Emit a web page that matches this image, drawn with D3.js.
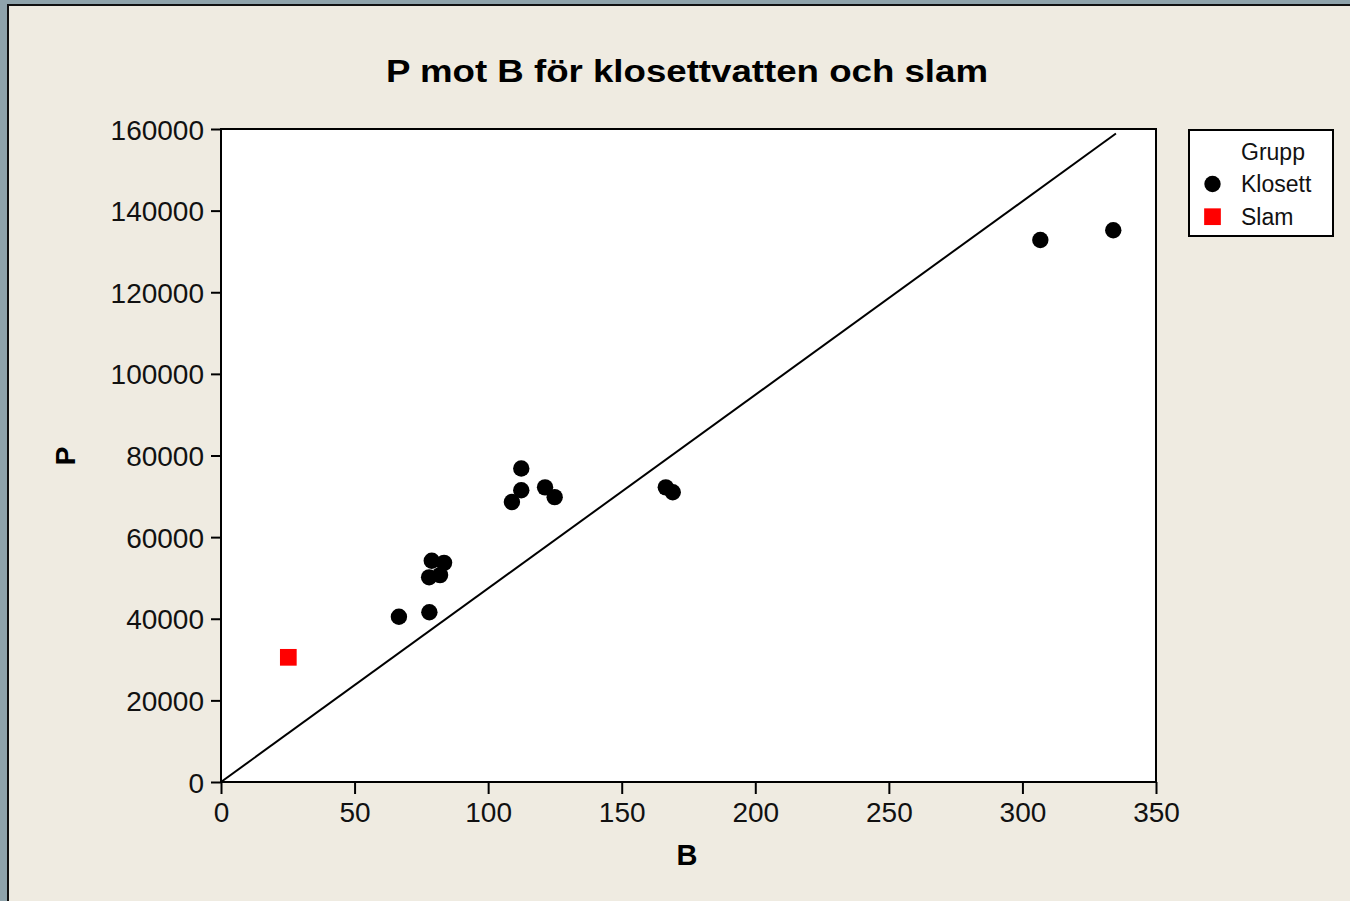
<!DOCTYPE html>
<html lang="en">

<head>
    <meta charset="utf-8">
    <script src="https://d3js.org/d3.v7.min.js"></script>
    <style>
        body { margin: 0; background: #8fa3ab; }
        svg { display: block; }
    </style>
</head>

<body>
    <div id="chart"></div>

    <script>
        // data
        const klosettB = [66.6, 78.0, 77.9, 82.0, 78.9, 83.5, 108.9, 112.4, 112.4, 121.3, 124.9, 166.5, 169.1, 306.7, 334.0];
        const klosettP = [40500, 41600, 50150, 50700, 54200, 53700, 68600, 71500, 76800, 72200, 69800, 72200, 71000, 132800, 135200];
        const slamB = [25.2];
        const slamP = [30550];
        const lineB = [0, 335];
        const lineP = [0, 158900];
        const xTicks = [0, 50, 100, 150, 200, 250, 300, 350];
        const yTicks = [0, 20000, 40000, 60000, 80000, 100000, 120000, 140000, 160000];
        const groups = ["Klosett", "Slam"];

        const width = 1350;
        const height = 901;
        const plot = { left: 221, right: 1156, top: 129, bottom: 782 };
        const font = "'Liberation Sans', Arial, sans-serif";

        const svg = d3.select("#chart").append("svg")
            .attr("width", width)
            .attr("height", height)
            .style("font-family", font);

        // outer frame + beige panel
        svg.append("rect").attr("width", width).attr("height", height).attr("fill", "#8fa3ab");
        svg.append("rect")
            .attr("x", 7).attr("y", 4)
            .attr("width", width - 7).attr("height", height - 4)
            .attr("fill", "#efebe1");
        svg.append("path")
            .attr("d", `M8,${height}V5H${width}`)
            .attr("fill", "none")
            .attr("stroke", "#111")
            .attr("stroke-width", 2);

        const x = d3.scaleLinear().domain([0, 350]).range([plot.left, plot.right]);
        const y = d3.scaleLinear().domain([0, 160000]).range([plot.bottom, plot.top]);

        // plot area
        svg.append("rect")
            .attr("x", plot.left).attr("y", plot.top)
            .attr("width", plot.right - plot.left)
            .attr("height", plot.bottom - plot.top)
            .attr("fill", "white")
            .attr("stroke", "black")
            .attr("stroke-width", 2);

        // axes
        const xAxis = svg.append("g")
            .attr("transform", `translate(0,${plot.bottom})`)
            .call(d3.axisBottom(x).tickValues(xTicks).tickSize(12).tickPadding(8).tickFormat(d3.format("d")));
        const yAxis = svg.append("g")
            .attr("transform", `translate(${plot.left},0)`)
            .call(d3.axisLeft(y).tickValues(yTicks).tickSize(10).tickPadding(7).tickFormat(d3.format("d")));

        [xAxis, yAxis].forEach(a => {
            a.select(".domain").remove();
            a.selectAll("line").attr("stroke", "black").attr("stroke-width", 2);
            a.selectAll("text")
                .attr("fill", "#111")
                .style("font-family", font)
                .style("font-size", "28px");
        });
        xAxis.selectAll("text").attr("dy", "0.71em");
        yAxis.selectAll("text").attr("dy", "0.36em");

        // reference line
        const line = d3.line().x(d => x(d[0])).y(d => y(d[1]));
        svg.append("path")
            .datum(d3.zip(lineB, lineP))
            .attr("d", line)
            .attr("fill", "none")
            .attr("stroke", "black")
            .attr("stroke-width", 2);

        // points
        svg.append("g").selectAll("circle")
            .data(d3.zip(klosettB, klosettP))
            .join("circle")
            .attr("cx", d => x(d[0]))
            .attr("cy", d => y(d[1]))
            .attr("r", 8.2)
            .attr("fill", "black");

        const sq = 16.7;
        svg.append("g").selectAll("rect")
            .data(d3.zip(slamB, slamP))
            .join("rect")
            .attr("x", d => x(d[0]) - sq / 2)
            .attr("y", d => y(d[1]) - sq / 2)
            .attr("width", sq)
            .attr("height", sq)
            .attr("fill", "red");

        // title and axis labels
        svg.append("text")
            .attr("x", 687).attr("y", 82)
            .attr("text-anchor", "middle")
            .attr("textLength", 602)
            .attr("lengthAdjust", "spacingAndGlyphs")
            .style("font-size", "32px")
            .style("font-weight", "bold")
            .text("P mot B för klosettvatten och slam");

        svg.append("text")
            .attr("x", 687).attr("y", 865)
            .attr("text-anchor", "middle")
            .style("font-size", "29px")
            .style("font-weight", "bold")
            .text("B");

        svg.append("text")
            .attr("transform", "translate(75,456) rotate(-90)")
            .attr("text-anchor", "middle")
            .style("font-size", "28px")
            .style("font-weight", "bold")
            .text("P");

        // legend
        const legend = svg.append("g");
        legend.append("rect")
            .attr("x", 1189).attr("y", 130)
            .attr("width", 144).attr("height", 106)
            .attr("fill", "white")
            .attr("stroke", "black")
            .attr("stroke-width", 2);
        legend.append("text")
            .attr("x", 1241).attr("y", 160)
            .style("font-size", "23px")
            .attr("fill", "#111")
            .text("Grupp");
        const rows = legend.selectAll("g.row")
            .data(groups)
            .join("g")
            .attr("class", "row")
            .attr("transform", (d, i) => `translate(0,${184 + i * 32.7})`);
        rows.filter(d => d === "Klosett").append("circle")
            .attr("cx", 1212.5).attr("cy", 0).attr("r", 8.2).attr("fill", "black");
        rows.filter(d => d === "Slam").append("rect")
            .attr("x", 1212.5 - sq / 2).attr("y", -sq / 2)
            .attr("width", sq).attr("height", sq).attr("fill", "red");
        rows.append("text")
            .attr("x", 1241).attr("y", 8)
            .style("font-size", "23px")
            .attr("fill", "#111")
            .text(d => d);
    </script>
</body>

</html>
